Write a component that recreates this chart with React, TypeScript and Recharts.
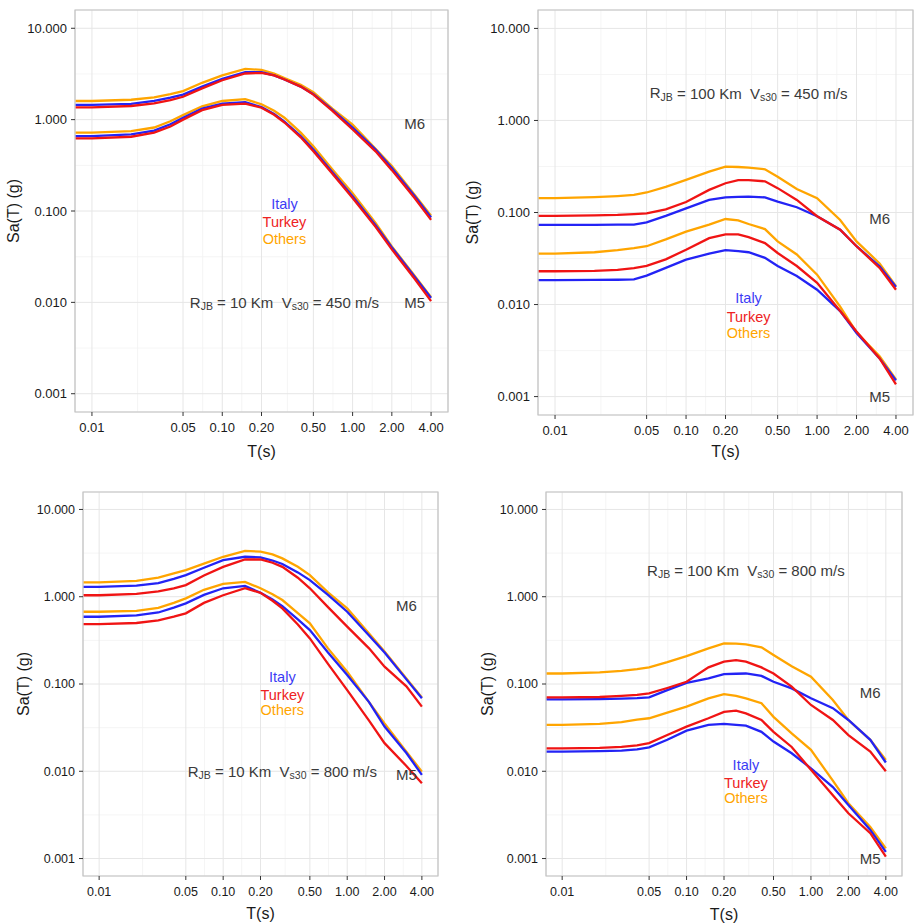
import { LineChart, Line, XAxis, YAxis, CartesianGrid, ReferenceArea, ReferenceDot, Label } from 'recharts';

const periods = [0.0075, 0.01, 0.02, 0.03, 0.04, 0.05, 0.07, 0.1, 0.15, 0.2, 0.25, 0.3, 0.4, 0.5, 0.7, 1, 1.5, 2, 3, 4];
const xTicks = [0.01, 0.05, 0.1, 0.2, 0.5, 1, 2, 4];
const yTicks = [0.001, 0.01, 0.1, 1, 10];
const xMinor = [0.0224, 0.0707, 0.141, 0.316, 0.707, 1.414, 2.83];
const yMinor = [0.00316, 0.0316, 0.316, 3.16];

// Rjb = 10 km, Vs30 = 450 m/s
const r10v450ItalyM6 = [1.45, 1.45, 1.49, 1.6, 1.74, 1.88, 2.3, 2.8, 3.3, 3.3, 3.05, 2.75, 2.3, 1.9, 1.28, 0.82, 0.47, 0.295, 0.145, 0.085];
const r10v450TurkeyM6 = [1.36, 1.36, 1.41, 1.51, 1.64, 1.78, 2.2, 2.7, 3.2, 3.25, 3.05, 2.75, 2.3, 1.88, 1.25, 0.78, 0.45, 0.28, 0.138, 0.08];
const r10v450OthersM6 = [1.6, 1.6, 1.65, 1.75, 1.9, 2.05, 2.53, 3.05, 3.6, 3.5, 3.2, 2.85, 2.4, 2.0, 1.32, 0.88, 0.48, 0.31, 0.15, 0.089];
const r10v450ItalyM5 = [0.66, 0.66, 0.69, 0.76, 0.89, 1.05, 1.32, 1.5, 1.55, 1.37, 1.15, 0.95, 0.66, 0.47, 0.265, 0.145, 0.07, 0.04, 0.019, 0.0112];
const r10v450TurkeyM5 = [0.625, 0.625, 0.65, 0.72, 0.84, 1.0, 1.27, 1.45, 1.5, 1.35, 1.13, 0.93, 0.64, 0.45, 0.255, 0.139, 0.067, 0.038, 0.018, 0.0103];
const r10v450OthersM5 = [0.72, 0.72, 0.75, 0.82, 0.96, 1.12, 1.4, 1.6, 1.68, 1.47, 1.25, 1.05, 0.72, 0.51, 0.285, 0.157, 0.074, 0.041, 0.0194, 0.0114];

// Rjb = 100 km, Vs30 = 450 m/s
const r100v450ItalyM6 = [0.0735, 0.0735, 0.0735, 0.0737, 0.074, 0.078, 0.092, 0.111, 0.137, 0.146, 0.148, 0.149, 0.146, 0.131, 0.114, 0.091, 0.065, 0.043, 0.026, 0.0155];
const r100v450TurkeyM6 = [0.092, 0.092, 0.093, 0.094, 0.096, 0.098, 0.108, 0.13, 0.176, 0.208, 0.225, 0.225, 0.218, 0.184, 0.137, 0.091, 0.065, 0.043, 0.025, 0.0145];
const r100v450OthersM6 = [0.143, 0.143, 0.147, 0.151, 0.155, 0.165, 0.19, 0.226, 0.278, 0.315, 0.312, 0.307, 0.295, 0.245, 0.18, 0.143, 0.083, 0.0485, 0.028, 0.0158];
const r100v450ItalyM5 = [0.0184, 0.0184, 0.0185, 0.0186, 0.0188, 0.0206, 0.025, 0.0307, 0.0357, 0.039, 0.038, 0.037, 0.0322, 0.0262, 0.0204, 0.0145, 0.0085, 0.0049, 0.0026, 0.0015];
const r100v450TurkeyM5 = [0.023, 0.023, 0.0232, 0.0238, 0.0249, 0.0263, 0.031, 0.0394, 0.0527, 0.058, 0.058, 0.054, 0.0465, 0.0363, 0.0262, 0.0172, 0.0085, 0.0051, 0.0026, 0.00136];
const r100v450OthersM5 = [0.0357, 0.0357, 0.037, 0.039, 0.041, 0.043, 0.051, 0.062, 0.074, 0.085, 0.082, 0.075, 0.066, 0.0485, 0.035, 0.0211, 0.0095, 0.005, 0.00275, 0.00154];

// Rjb = 10 km, Vs30 = 800 m/s
const r10v800ItalyM6 = [1.3, 1.3, 1.34, 1.43, 1.6, 1.77, 2.15, 2.63, 2.87, 2.82, 2.6, 2.37, 1.9, 1.55, 1.05, 0.673, 0.36, 0.229, 0.113, 0.0685];
const r10v800TurkeyM6 = [1.04, 1.04, 1.08, 1.15, 1.25, 1.36, 1.75, 2.2, 2.67, 2.67, 2.45, 2.2, 1.65, 1.25, 0.76, 0.454, 0.256, 0.158, 0.094, 0.055];
const r10v800OthersM6 = [1.46, 1.46, 1.52, 1.66, 1.85, 2.02, 2.4, 2.87, 3.36, 3.28, 3.05, 2.75, 2.2, 1.77, 1.12, 0.735, 0.38, 0.235, 0.116, 0.0703];
const r10v800ItalyM5 = [0.59, 0.59, 0.61, 0.66, 0.75, 0.839, 1.05, 1.25, 1.33, 1.11, 0.93, 0.782, 0.55, 0.415, 0.23, 0.127, 0.062, 0.0325, 0.0162, 0.0091];
const r10v800TurkeyM5 = [0.486, 0.486, 0.5, 0.535, 0.59, 0.645, 0.85, 1.04, 1.25, 1.11, 0.9, 0.735, 0.48, 0.333, 0.17, 0.085, 0.038, 0.021, 0.0115, 0.0073];
const r10v800OthersM5 = [0.673, 0.673, 0.69, 0.745, 0.85, 0.957, 1.2, 1.4, 1.48, 1.25, 1.07, 0.916, 0.65, 0.495, 0.256, 0.138, 0.062, 0.0354, 0.0168, 0.0099];

// Rjb = 100 km, Vs30 = 800 m/s
const r100v800ItalyM6 = [0.0667, 0.0667, 0.067, 0.068, 0.069, 0.0703, 0.085, 0.103, 0.116, 0.13, 0.131, 0.132, 0.124, 0.106, 0.089, 0.0686, 0.0528, 0.0387, 0.0229, 0.0126];
const r100v800TurkeyM6 = [0.0703, 0.0703, 0.071, 0.073, 0.075, 0.078, 0.09, 0.106, 0.155, 0.18, 0.188, 0.18, 0.155, 0.132, 0.0932, 0.0575, 0.0387, 0.026, 0.0168, 0.01];
const r100v800OthersM6 = [0.132, 0.132, 0.136, 0.141, 0.148, 0.155, 0.178, 0.209, 0.256, 0.292, 0.29, 0.285, 0.263, 0.215, 0.16, 0.121, 0.0655, 0.0387, 0.0229, 0.0135];
const r100v800ItalyM5 = [0.0168, 0.0168, 0.017, 0.0172, 0.0178, 0.0188, 0.023, 0.0292, 0.034, 0.0349, 0.034, 0.0333, 0.0283, 0.0219, 0.0161, 0.0108, 0.0066, 0.0041, 0.00213, 0.00119];
const r100v800TurkeyM5 = [0.0183, 0.0183, 0.0185, 0.019, 0.0198, 0.021, 0.026, 0.0325, 0.0405, 0.048, 0.0494, 0.046, 0.0387, 0.0283, 0.019, 0.0104, 0.0053, 0.0033, 0.00195, 0.00105];
const r100v800OthersM5 = [0.034, 0.034, 0.035, 0.0365, 0.039, 0.0405, 0.047, 0.055, 0.0684, 0.0767, 0.073, 0.0684, 0.0603, 0.042, 0.0272, 0.0176, 0.0078, 0.0043, 0.0023, 0.00131];

const ITALY = '#2323f5';
const TURKEY = '#f01414';
const OTHERS = '#ffa500';
const FONT = '"Liberation Sans", Arial, sans-serif';

const X_DOMAIN = [Math.pow(10, -2.13), Math.pow(10, 0.732)];
const Y_DOMAIN = [Math.pow(10, -3.2), Math.pow(10, 1.2)];

function buildRows(s: number[][]) {
  return periods.map((T, i) => ({
    T,
    italyM6: s[0][i], turkeyM6: s[1][i], othersM6: s[2][i],
    italyM5: s[3][i], turkeyM5: s[4][i], othersM5: s[5][i],
  }));
}

const textShape = (text: string, color: string, size = 15) => (p: any) => (
  <text x={p.cx} y={p.cy} textAnchor="middle" dominantBaseline="central" fill={color} fontSize={size} fontFamily={FONT}>{text}</text>
);

const caseShape = (rjb: string, vs30: string) => (p: any) => (
  <text x={p.cx} y={p.cy} textAnchor="middle" dominantBaseline="central" fill="#3a3a3a" fontSize={15} fontFamily={FONT} style={{ whiteSpace: 'pre' }}>
    R<tspan fontSize={10.5} dy={4}>JB</tspan>
    <tspan dy={-4}>{` = ${rjb} Km  V`}</tspan>
    <tspan fontSize={10.5} dy={4}>s30</tspan>
    <tspan dy={-4}>{` = ${vs30} m/s`}</tspan>
  </text>
);

interface PanelProps {
  left: number; top: number; width: number; height: number;
  marginTop: number; marginRight: number; yWidth: number; xHeight: number;
  rows: any[]; rjb: string; vs30: string; caseY: number;
  labelY: number[]; m6Y: number; m5Y: number; yTitleX: number; xTitleDy: number; tickSize: number;
}

function Panel(p: PanelProps) {
  return (
    <div style={{ position: 'absolute', left: p.left, top: p.top }}>
      <LineChart width={p.width} height={p.height} data={p.rows} margin={{ top: p.marginTop, right: p.marginRight, left: 0, bottom: 0 }}>
        <CartesianGrid stroke="#f2f2f2" strokeWidth={0.8} horizontalValues={yMinor} verticalValues={xMinor} />
        <CartesianGrid stroke="#e6e6e6" strokeWidth={1} />
        <XAxis
          dataKey="T" type="number" scale="log" domain={X_DOMAIN} ticks={xTicks} interval={0}
          allowDataOverflow height={p.xHeight} tickSize={4} tickMargin={7}
          axisLine={false} tickLine={{ stroke: '#333' }}
          tick={{ fontSize: p.tickSize, fill: '#1a1a1a', fontFamily: FONT }}
          tickFormatter={(v: number) => v.toFixed(2)}
        >
          <Label content={(lp: any) => {
            const vb = lp.viewBox;
            return <text x={vb.x + vb.width / 2} y={vb.y + p.xTitleDy} textAnchor="middle" dominantBaseline="central" fontSize={16} fill="#1a1a1a" fontFamily={FONT}>T(s)</text>;
          }} />
        </XAxis>
        <YAxis
          type="number" scale="log" domain={Y_DOMAIN} ticks={yTicks} interval={0}
          allowDataOverflow width={p.yWidth} tickSize={4} tickMargin={4}
          axisLine={false} tickLine={{ stroke: '#333' }}
          tick={{ fontSize: p.tickSize, fill: '#1a1a1a', fontFamily: FONT }}
          tickFormatter={(v: number) => v.toFixed(3)}
        >
          <Label content={(lp: any) => {
            const vb = lp.viewBox;
            const cx = vb.x + p.yTitleX;
            const cy = vb.y + vb.height / 2;
            return <text x={cx} y={cy} transform={`rotate(-90 ${cx} ${cy})`} textAnchor="middle" dominantBaseline="central" fontSize={16} fill="#1a1a1a" fontFamily={FONT}>Sa(T) (g)</text>;
          }} />
        </YAxis>
        <ReferenceArea x1={X_DOMAIN[0]} x2={X_DOMAIN[1]} y1={Y_DOMAIN[0]} y2={Y_DOMAIN[1]} fill="none" stroke="#c4c4c4" strokeWidth={1.2} fillOpacity={0} ifOverflow="visible" />
        <Line dataKey="othersM6" stroke={OTHERS} strokeWidth={2.3} dot={false} isAnimationActive={false} />
        <Line dataKey="italyM6" stroke={ITALY} strokeWidth={2.3} dot={false} isAnimationActive={false} />
        <Line dataKey="turkeyM6" stroke={TURKEY} strokeWidth={2.3} dot={false} isAnimationActive={false} />
        <Line dataKey="othersM5" stroke={OTHERS} strokeWidth={2.3} dot={false} isAnimationActive={false} />
        <Line dataKey="italyM5" stroke={ITALY} strokeWidth={2.3} dot={false} isAnimationActive={false} />
        <Line dataKey="turkeyM5" stroke={TURKEY} strokeWidth={2.3} dot={false} isAnimationActive={false} />
        <ReferenceDot x={0.3} y={p.caseY} r={0} shape={caseShape(p.rjb, p.vs30)} />
        <ReferenceDot x={0.3} y={p.labelY[0]} r={0} shape={textShape('Italy', '#3b3bf5', 14.5)} />
        <ReferenceDot x={0.3} y={p.labelY[1]} r={0} shape={textShape('Turkey', '#ee2222', 14.5)} />
        <ReferenceDot x={0.3} y={p.labelY[2]} r={0} shape={textShape('Others', OTHERS, 14.5)} />
        <ReferenceDot x={3} y={p.m6Y} r={0} shape={textShape('M6', '#3a3a3a')} />
        <ReferenceDot x={3} y={p.m5Y} r={0} shape={textShape('M5', '#3a3a3a')} />
      </LineChart>
    </div>
  );
}

const rows1 = buildRows([r10v450ItalyM6, r10v450TurkeyM6, r10v450OthersM6, r10v450ItalyM5, r10v450TurkeyM5, r10v450OthersM5]);
const rows2 = buildRows([r100v450ItalyM6, r100v450TurkeyM6, r100v450OthersM6, r100v450ItalyM5, r100v450TurkeyM5, r100v450OthersM5]);
const rows3 = buildRows([r10v800ItalyM6, r10v800TurkeyM6, r10v800OthersM6, r10v800ItalyM5, r10v800TurkeyM5, r10v800OthersM5]);
const rows4 = buildRows([r100v800ItalyM6, r100v800TurkeyM6, r100v800OthersM6, r100v800ItalyM5, r100v800TurkeyM5, r100v800OthersM5]);

export default function App() {
  return (
    <div style={{ position: 'absolute', left: 0, top: 0, width: 914, height: 924, background: '#fff', fontFamily: FONT, overflow: 'hidden' }}>
      <Panel left={0} top={0} width={455} height={460} marginTop={10} marginRight={7} yWidth={75} xHeight={48}
        rows={rows1} rjb="10" vs30="450" caseY={0.01} labelY={[0.12, 0.075, 0.05]} m6Y={0.9} m5Y={0.01} yTitleX={13} xTitleDy={39} tickSize={13} />
      <Panel left={455} top={0} width={459} height={460} marginTop={10} marginRight={1} yWidth={83} xHeight={45}
        rows={rows2} rjb="100" vs30="450" caseY={2} labelY={[0.0118, 0.0074, 0.0049]} m6Y={0.087} m5Y={0.001} yTitleX={17} xTitleDy={36} tickSize={13} />
      <Panel left={0} top={460} width={455} height={464} marginTop={32} marginRight={17} yWidth={83} xHeight={48}
        rows={rows3} rjb="10" vs30="800" caseY={0.01} labelY={[0.119, 0.074, 0.05]} m6Y={0.8} m5Y={0.0093} yTitleX={23} xTitleDy={37} tickSize={12.5} />
      <Panel left={455} top={460} width={459} height={464} marginTop={32} marginRight={12} yWidth={91} xHeight={48}
        rows={rows4} rjb="100" vs30="800" caseY={2} labelY={[0.0117, 0.0074, 0.005]} m6Y={0.08} m5Y={0.001} yTitleX={32} xTitleDy={38} tickSize={12.5} />
    </div>
  );
}
